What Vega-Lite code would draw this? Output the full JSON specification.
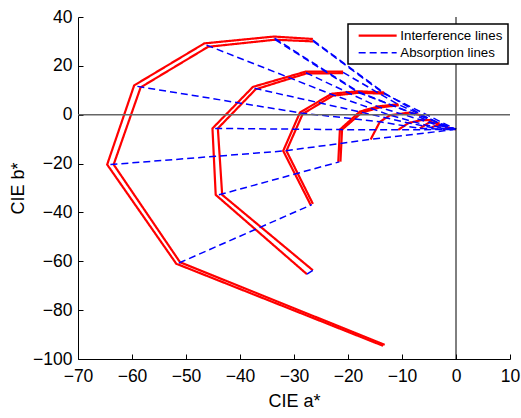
{
  "$schema": "https://vega.github.io/schema/vega-lite/v6.json",
  "width": 432,
  "height": 342,
  "autosize": {"type": "none"},
  "padding": {"left": 78, "top": 17, "right": 11, "bottom": 59},
  "background": "white",
  "config": {
    "view": {"stroke": null},
    "font": "Liberation Sans",
    "axis": {
      "domainColor": "black", "domainWidth": 1, "tickColor": "black", "tickWidth": 1,
      "labelColor": "black", "titleColor": "black",
      "labelFont": "Liberation Sans", "titleFont": "Liberation Sans",
      "labelFontSize": 17.5, "titleFontSize": 18, "titleFontWeight": "normal",
      "grid": false, "tickSize": -5, "labelFlush": false, "labelOverlap": false
    },
    "legend": {
      "labelFont": "Liberation Sans", "labelFontSize": 13.3, "labelColor": "black",
      "strokeColor": "black", "strokeWidth": 1.5, "fillColor": "white", "padding": 5,
      "symbolType": "M-3.8,0H3.8", "symbolSize": 100, "symbolOffset": 18, "labelOffset": 16, "rowPadding": 3
    }
  },
  "datasets": {
    "lines": [
      {"t": "Interference lines", "id": "c1a", "i": 0, "a": -13.5, "b": -94.6},
      {"t": "Interference lines", "id": "c1a", "i": 1, "a": -51.8, "b": -61.0},
      {"t": "Interference lines", "id": "c1a", "i": 2, "a": -64.6, "b": -20.4},
      {"t": "Interference lines", "id": "c1a", "i": 3, "a": -59.6, "b": 12.0},
      {"t": "Interference lines", "id": "c1a", "i": 4, "a": -46.6, "b": 29.2},
      {"t": "Interference lines", "id": "c1a", "i": 5, "a": -33.7, "b": 32.0},
      {"t": "Interference lines", "id": "c1a", "i": 6, "a": -26.5, "b": 31.0},
      {"t": "Interference lines", "id": "c1b", "i": 0, "a": -13.2, "b": -94.2},
      {"t": "Interference lines", "id": "c1b", "i": 1, "a": -51.1, "b": -60.4},
      {"t": "Interference lines", "id": "c1b", "i": 2, "a": -63.4, "b": -20.4},
      {"t": "Interference lines", "id": "c1b", "i": 3, "a": -58.4, "b": 11.2},
      {"t": "Interference lines", "id": "c1b", "i": 4, "a": -45.9, "b": 27.8},
      {"t": "Interference lines", "id": "c1b", "i": 5, "a": -33.5, "b": 30.7},
      {"t": "Interference lines", "id": "c1b", "i": 6, "a": -26.4, "b": 30.0},
      {"t": "Interference lines", "id": "c2a", "i": 0, "a": -20.9, "b": 17.6},
      {"t": "Interference lines", "id": "c2a", "i": 1, "a": -27.9, "b": 17.6},
      {"t": "Interference lines", "id": "c2a", "i": 2, "a": -37.6, "b": 11.4},
      {"t": "Interference lines", "id": "c2a", "i": 3, "a": -45.1, "b": -5.6},
      {"t": "Interference lines", "id": "c2a", "i": 4, "a": -44.5, "b": -32.8},
      {"t": "Interference lines", "id": "c2a", "i": 5, "a": -27.6, "b": -65.3},
      {"t": "Interference lines", "id": "c2b", "i": 0, "a": -20.9, "b": 17.0},
      {"t": "Interference lines", "id": "c2b", "i": 1, "a": -27.7, "b": 16.9},
      {"t": "Interference lines", "id": "c2b", "i": 2, "a": -37.1, "b": 10.4},
      {"t": "Interference lines", "id": "c2b", "i": 3, "a": -44.1, "b": -5.6},
      {"t": "Interference lines", "id": "c2b", "i": 4, "a": -43.3, "b": -32.8},
      {"t": "Interference lines", "id": "c2b", "i": 5, "a": -26.5, "b": -63.7},
      {"t": "Interference lines", "id": "c3a", "i": 0, "a": -13.3, "b": 9.1},
      {"t": "Interference lines", "id": "c3a", "i": 1, "a": -18.1, "b": 9.6},
      {"t": "Interference lines", "id": "c3a", "i": 2, "a": -23.0, "b": 8.6},
      {"t": "Interference lines", "id": "c3a", "i": 3, "a": -28.9, "b": 0.9},
      {"t": "Interference lines", "id": "c3a", "i": 4, "a": -32.0, "b": -14.8},
      {"t": "Interference lines", "id": "c3a", "i": 5, "a": -26.9, "b": -37.0},
      {"t": "Interference lines", "id": "c3b", "i": 0, "a": -13.3, "b": 8.6},
      {"t": "Interference lines", "id": "c3b", "i": 1, "a": -18.0, "b": 9.0},
      {"t": "Interference lines", "id": "c3b", "i": 2, "a": -22.8, "b": 7.8},
      {"t": "Interference lines", "id": "c3b", "i": 3, "a": -28.4, "b": 0.3},
      {"t": "Interference lines", "id": "c3b", "i": 4, "a": -31.4, "b": -14.8},
      {"t": "Interference lines", "id": "c3b", "i": 5, "a": -26.5, "b": -36.5},
      {"t": "Interference lines", "id": "c4a", "i": 0, "a": -10.7, "b": 4.3},
      {"t": "Interference lines", "id": "c4a", "i": 1, "a": -14.4, "b": 3.4},
      {"t": "Interference lines", "id": "c4a", "i": 2, "a": -17.8, "b": 1.3},
      {"t": "Interference lines", "id": "c4a", "i": 3, "a": -21.5, "b": -6.1},
      {"t": "Interference lines", "id": "c4a", "i": 4, "a": -21.8, "b": -19.3},
      {"t": "Interference lines", "id": "c4b", "i": 0, "a": -10.6, "b": 3.9},
      {"t": "Interference lines", "id": "c4b", "i": 1, "a": -14.3, "b": 2.9},
      {"t": "Interference lines", "id": "c4b", "i": 2, "a": -17.5, "b": 0.8},
      {"t": "Interference lines", "id": "c4b", "i": 3, "a": -21.1, "b": -6.1},
      {"t": "Interference lines", "id": "c4b", "i": 4, "a": -21.4, "b": -19.2},
      {"t": "Interference lines", "id": "c5a", "i": 0, "a": -6.0, "b": -0.5},
      {"t": "Interference lines", "id": "c5a", "i": 1, "a": -8.5, "b": 0.9},
      {"t": "Interference lines", "id": "c5a", "i": 2, "a": -12.2, "b": -0.2},
      {"t": "Interference lines", "id": "c5a", "i": 3, "a": -14.1, "b": -2.9},
      {"t": "Interference lines", "id": "c5a", "i": 4, "a": -15.8, "b": -10.1},
      {"t": "Interference lines", "id": "c6a", "i": 0, "a": -4.3, "b": -2.2},
      {"t": "Interference lines", "id": "c6a", "i": 1, "a": -6.4, "b": -2.2},
      {"t": "Interference lines", "id": "c6a", "i": 2, "a": -8.8, "b": -3.4},
      {"t": "Interference lines", "id": "c6a", "i": 3, "a": -10.7, "b": -6.2},
      {"t": "Interference lines", "id": "c7a", "i": 0, "a": -3.0, "b": -3.6},
      {"t": "Interference lines", "id": "c7a", "i": 1, "a": -4.8, "b": -3.0},
      {"t": "Interference lines", "id": "c7a", "i": 2, "a": -5.7, "b": -4.2},
      {"t": "Interference lines", "id": "c7a", "i": 3, "a": -6.7, "b": -5.6},
      {"t": "Interference lines", "id": "c8a", "i": 0, "a": -1.2, "b": -5.6},
      {"t": "Interference lines", "id": "c8a", "i": 1, "a": -2.2, "b": -4.5},
      {"t": "Interference lines", "id": "c8a", "i": 2, "a": -3.5, "b": -4.2},
      {"t": "Interference lines", "id": "c8a", "i": 3, "a": -4.5, "b": -5.2},
      {"t": "Interference lines", "id": "c9a", "i": 0, "a": 0.0, "b": -6.0},
      {"t": "Interference lines", "id": "c9a", "i": 1, "a": -1.5, "b": -5.3},
      {"t": "Interference lines", "id": "c9a", "i": 2, "a": -2.4, "b": -6.1},

      {"t": "Absorption lines", "id": "o1", "i": 0, "a": -26.5, "b": 30.5},
      {"t": "Absorption lines", "id": "o1", "i": 1, "a": -13.3, "b": 8.9},
      {"t": "Absorption lines", "id": "o1", "i": 2, "a": -6.0, "b": -0.5},
      {"t": "Absorption lines", "id": "o1", "i": 3, "a": -3.0, "b": -3.6},
      {"t": "Absorption lines", "id": "o1", "i": 4, "a": 0.0, "b": -6.0},
      {"t": "Absorption lines", "id": "o1b", "i": 0, "a": -26.4, "b": 30.0},
      {"t": "Absorption lines", "id": "o1b", "i": 1, "a": -13.3, "b": 8.6},
      {"t": "Absorption lines", "id": "o1b", "i": 2, "a": 0.0, "b": -6.0},
      {"t": "Absorption lines", "id": "o2", "i": 0, "a": -33.6, "b": 31.3},
      {"t": "Absorption lines", "id": "o2", "i": 1, "a": -18.1, "b": 9.4},
      {"t": "Absorption lines", "id": "o2", "i": 2, "a": -8.5, "b": 0.9},
      {"t": "Absorption lines", "id": "o2", "i": 3, "a": -4.8, "b": -3.0},
      {"t": "Absorption lines", "id": "o2", "i": 4, "a": 0.0, "b": -6.0},
      {"t": "Absorption lines", "id": "o2b", "i": 0, "a": -33.5, "b": 30.7},
      {"t": "Absorption lines", "id": "o2b", "i": 1, "a": -18.0, "b": 9.0},
      {"t": "Absorption lines", "id": "o2b", "i": 2, "a": 0.0, "b": -6.0},
      {"t": "Absorption lines", "id": "o3", "i": 0, "a": -46.2, "b": 28.5},
      {"t": "Absorption lines", "id": "o3", "i": 1, "a": -23.0, "b": 8.3},
      {"t": "Absorption lines", "id": "o3", "i": 2, "a": -12.2, "b": -0.2},
      {"t": "Absorption lines", "id": "o3", "i": 3, "a": -5.7, "b": -4.2},
      {"t": "Absorption lines", "id": "o3", "i": 4, "a": 0.0, "b": -6.0},
      {"t": "Absorption lines", "id": "o4", "i": 0, "a": -59.0, "b": 11.6},
      {"t": "Absorption lines", "id": "o4", "i": 1, "a": -28.7, "b": 0.7},
      {"t": "Absorption lines", "id": "o4", "i": 2, "a": -14.1, "b": -2.9},
      {"t": "Absorption lines", "id": "o4", "i": 3, "a": -6.7, "b": -5.6},
      {"t": "Absorption lines", "id": "o4", "i": 4, "a": 0.0, "b": -6.0},
      {"t": "Absorption lines", "id": "o5", "i": 0, "a": -64.0, "b": -20.4},
      {"t": "Absorption lines", "id": "o5", "i": 1, "a": -31.7, "b": -14.8},
      {"t": "Absorption lines", "id": "o5", "i": 2, "a": -15.8, "b": -10.1},
      {"t": "Absorption lines", "id": "o5", "i": 3, "a": 0.0, "b": -6.0},
      {"t": "Absorption lines", "id": "o6", "i": 0, "a": -51.3, "b": -60.7},
      {"t": "Absorption lines", "id": "o6", "i": 1, "a": -26.7, "b": -36.8},
      {"t": "Absorption lines", "id": "e1", "i": 0, "a": -20.9, "b": 17.3},
      {"t": "Absorption lines", "id": "e1", "i": 1, "a": -10.7, "b": 4.2},
      {"t": "Absorption lines", "id": "e1", "i": 2, "a": -4.3, "b": -2.2},
      {"t": "Absorption lines", "id": "e1", "i": 3, "a": -2.2, "b": -4.5},
      {"t": "Absorption lines", "id": "e1", "i": 4, "a": 0.0, "b": -6.0},
      {"t": "Absorption lines", "id": "e2", "i": 0, "a": -27.8, "b": 17.2},
      {"t": "Absorption lines", "id": "e2", "i": 1, "a": -14.4, "b": 3.2},
      {"t": "Absorption lines", "id": "e2", "i": 2, "a": -6.4, "b": -2.2},
      {"t": "Absorption lines", "id": "e2", "i": 3, "a": -3.5, "b": -4.2},
      {"t": "Absorption lines", "id": "e2", "i": 4, "a": 0.0, "b": -6.0},
      {"t": "Absorption lines", "id": "e3", "i": 0, "a": -37.3, "b": 10.8},
      {"t": "Absorption lines", "id": "e3", "i": 1, "a": -17.7, "b": 1.1},
      {"t": "Absorption lines", "id": "e3", "i": 2, "a": -8.8, "b": -3.4},
      {"t": "Absorption lines", "id": "e3", "i": 3, "a": -4.5, "b": -5.2},
      {"t": "Absorption lines", "id": "e3", "i": 4, "a": 0.0, "b": -6.0},
      {"t": "Absorption lines", "id": "e4", "i": 0, "a": -44.6, "b": -5.6},
      {"t": "Absorption lines", "id": "e4", "i": 1, "a": -21.3, "b": -6.1},
      {"t": "Absorption lines", "id": "e4", "i": 2, "a": -10.7, "b": -6.2},
      {"t": "Absorption lines", "id": "e4", "i": 3, "a": 0.0, "b": -6.0},
      {"t": "Absorption lines", "id": "e5", "i": 0, "a": -43.9, "b": -32.8},
      {"t": "Absorption lines", "id": "e5", "i": 1, "a": -21.6, "b": -19.3},
      {"t": "Absorption lines", "id": "e6", "i": 0, "a": -27.6, "b": -65.3},
      {"t": "Absorption lines", "id": "e6", "i": 1, "a": -26.5, "b": -63.7}
    ],
    "refs": [
      {"kind": "v", "v": 0}
    ],
    "hrefs": [
      {"kind": "h", "v": 0}
    ]
  },
  "encoding": {},
  "layer": [
    {
      "data": {"name": "lines"},
      "transform": [{"filter": "datum.t === 'Interference lines'"}],
      "mark": {"type": "line", "strokeJoin": "miter", "strokeCap": "butt"},
      "encoding": {
        "x": {"field": "a", "type": "quantitative", "scale": {"domain": [-70, 10], "nice": false, "zero": false},
              "axis": {"values": [-70, -60, -50, -40, -30, -20, -10, 0, 10], "title": "CIE a*", "labelPadding": 13, "titlePadding": 8}},
        "y": {"field": "b", "type": "quantitative", "scale": {"domain": [-100, 40], "nice": false, "zero": false},
              "axis": {"values": [-100, -80, -60, -40, -20, 0, 20, 40], "title": "CIE b*", "labelPadding": 11, "titlePadding": 5}},
        "detail": {"field": "id"},
        "order": {"field": "i", "type": "quantitative"},
        "color": {"field": "t", "type": "nominal", "scale": {"domain": ["Interference lines", "Absorption lines"], "range": ["#ff0000", "#0000ff"]},
                  "legend": {"title": null, "orient": "none", "legendX": 270, "legendY": 7}},
        "strokeDash": {"field": "t", "type": "nominal", "scale": {"domain": ["Interference lines", "Absorption lines"], "range": [[1, 0], [7, 4]]}},
        "strokeWidth": {"field": "t", "type": "nominal", "scale": {"domain": ["Interference lines", "Absorption lines"], "range": [2.2, 1.5]}}
      }
    },
    {
      "data": {"name": "lines"},
      "transform": [{"filter": "datum.t === 'Absorption lines'"}],
      "mark": {"type": "line"},
      "encoding": {
        "x": {"field": "a", "type": "quantitative"},
        "y": {"field": "b", "type": "quantitative"},
        "detail": {"field": "id"},
        "order": {"field": "i", "type": "quantitative"},
        "color": {"field": "t", "type": "nominal"},
        "strokeDash": {"field": "t", "type": "nominal"},
        "strokeWidth": {"field": "t", "type": "nominal"}
      }
    },
    {
      "data": {"name": "refs"},
      "mark": {"type": "rule", "color": "black", "strokeWidth": 1},
      "encoding": {"x": {"field": "v", "type": "quantitative"}}
    },
    {
      "data": {"name": "hrefs"},
      "mark": {"type": "rule", "color": "#666666", "strokeWidth": 1.5},
      "encoding": {"y": {"field": "v", "type": "quantitative"}}
    }
  ]
}
